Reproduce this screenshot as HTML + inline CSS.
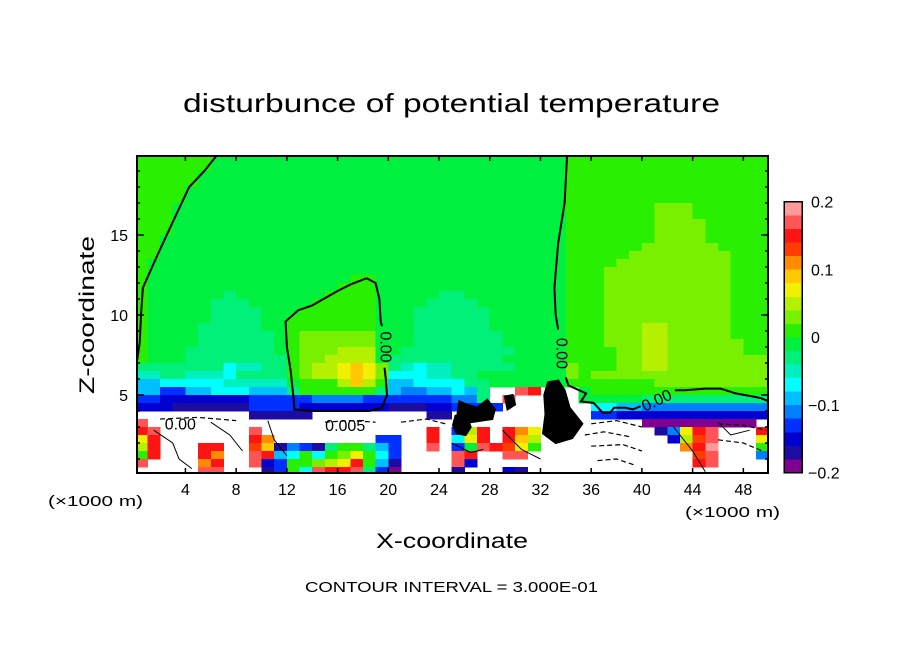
<!DOCTYPE html>
<html><head><meta charset="utf-8"><style>
html,body{margin:0;padding:0;background:#fff;}
svg{display:block;font-family:"Liberation Sans",sans-serif;}
</style></head><body>
<svg id="chart" width="904" height="654" viewBox="0 0 904 654" xmlns="http://www.w3.org/2000/svg">
<defs><clipPath id="plotclip"><rect x="137" y="156" width="631" height="317"/></clipPath></defs>
<rect x="0" y="0" width="904" height="654" fill="#fff"/>
<text x="183" y="112" font-size="26" textLength="537" lengthAdjust="spacingAndGlyphs">disturbunce of potential temperature</text>
<g id="field" clip-path="url(#plotclip)" shape-rendering="crispEdges"></g>
<g id="contours" clip-path="url(#plotclip)"></g>
<rect x="137" y="156" width="631" height="317" fill="none" stroke="#000" stroke-width="2"/>
<g id="axes"></g>
<text transform="translate(94,315) rotate(-90)" text-anchor="middle" font-size="21" textLength="158" lengthAdjust="spacingAndGlyphs">Z-coordinate</text>
<text x="376" y="548" font-size="21" textLength="152" lengthAdjust="spacingAndGlyphs">X-coordinate</text>
<text x="48" y="506" font-size="15" textLength="95" lengthAdjust="spacingAndGlyphs">(×1000 m)</text>
<text x="685" y="517" font-size="15" textLength="95" lengthAdjust="spacingAndGlyphs">(×1000 m)</text>
<text x="305" y="592" font-size="15" textLength="293" lengthAdjust="spacingAndGlyphs">CONTOUR INTERVAL = 3.000E-01</text>
<g id="colorbar" shape-rendering="crispEdges"></g>
<script>
// ---- data ----
const symbols = "0123456789abcdefghij";
const binColors = ["#800090","#1c0ca0","#0000d0","#0030ff","#0080ff","#00bfff","#00ffff","#00f0c0","#00f07a","#00f040",
                   "#28f000","#78f000","#b4f000","#f0f000","#ffc800","#ff8c00","#ff3c00","#ff1414","#ff5555","#ff9a9a"];
const xTicks = [4,8,12,16,20,24,28,32,36,40,44,48];
const yTicks = [5,10,15];
const cbTicks = [0.2,0.1,0,-0.1,-0.2];
const cbTickLabels = ["0.2","0.1","0","\u22120.1","\u22120.2"];
// grid rows (RLE: symbol then count), top row z=20..19.5, 0.5 km rows, 1 km columns
const rows = [
"a6 928 a16","a6 928 a16","a5 929 a16","a5 929 a16","a4 930 a16","a4 930 a16",
"a3 931 a7 b3 a6","a3 931 a7 b3 a6","a3 931 a7 b4 a5","a3 931 a7 b4 a5",
"a2 932 a7 b4 a5","a2 932 a6 b6 a4","a2 932 a5 b8 a3","a1 933 a4 b9 a3","a1 933 a3 b10 a3",
"a1 916 a2 915 a3 b10 a3","a1 915 a3 915 a3 b10 a3",
"a1 96 81 97 a4 95 82 98 a3 b10 a3",
"a1 95 83 95 a5 94 84 97 a3 b10 a3",
"a1 95 84 93 a6 93 86 96 a3 b10 a3",
"a1 95 84 92 a7 93 86 96 a3 b10 a3",
"a1 94 85 92 a7 93 86 96 a3 b3 c2 b5 a3",
"a1 94 86 91 a1 b6 93 87 95 a3 b3 c2 b5 a3",
"a1 94 86 91 a1 b6 93 87 95 a3 b3 c2 b6 a2",
"a1 93 87 91 a1 b3 c3 92 89 94 a4 b2 c2 b6 a2",
"a1 93 88 a1 b2 c4 91 89 95 a4 b2 c2 b8",
"87 61 72 82 a1 b1 c2 d1 e1 d1 b1 81 71 61 72 85 94 b1 a3 b2 c2 b8",
"72 82 73 61 84 a1 b1 c2 d1 e1 d1 b1 63 72 82 96 91 b1 a1 b14",
"52 65 72 73 91 a3 c1 e1 c1 a1 52 64 82 96 a7 b9",
"52 32 52 63 53 81 a6 81 51 42 52 61 51 81 .2 i1 h1 .3 91 a14",
"32 27 35 44 37 42 81 .1 i1 .5 95 810",
"23 16 34 27 13 22 34 .7 62 52 410",
".9 15 .9 12 .11 32 212",
"i1 .39 09 .1",
"h1 i1 .7 i1 .13 h1 .1 31 c1 h1 .1 h1 f1 d1 .9 11 41 d1 h1 i1 .3 h1",
"d1 h1 .7 h1 f1 .8 32 .2 h1 .1 61 d1 h1 .1 h1 e1 c1 .10 21 c1 g1 i1 .3 d1",
"c1 h1 .3 h2 .2 g1 e1 11 41 31 11 81 a2 81 51 31 .2 i1 .1 31 91 i1 h1 g1 d1 a1 .11 f1 h1 j1 .3 a1",
"a1 h1 .3 h1 f1 .2 i1 h1 51 61 a1 61 a1 b1 d1 a1 61 31 .4 i1 h1 .2 i2 .13 g1 i1 .3 41",
"i1 .4 f1 h1 .2 i1 21 31 a2 b1 c1 d1 h1 a1 51 11 .4 i1 21 .17 h1 i1 .4",
".5 i2 .3 11 31 a1 61 i1 h2 i1 81 31 01 .4 11 .3 21 11 .19"
];
// contour polylines in data units [x km, z km]
const contourLeft = [[6.5,20],[5.5,19],[4.3,18],[3.0,15.8],[1.8,13.75],[0.65,11.7],[0.5,10],[0.4,8.3],[0.2,7.2]];
const contourRightUpper = [[34.1,20],[33.9,17],[33.4,14.5],[33.1,11.7],[33.2,10],[33.4,9.1]];
const contourRightLower = [[34.0,6.1],[34.2,5.6],[35.6,5.1],[35.2,4.6],[36.2,4.5],[36.9,3.9],[37.5,3.9],[37.8,4.2],[38.7,4.2],[39.3,4.1],
                           [39.9,4.3]];
const contourRightTail = [[42.6,5.3],[43.4,5.3],[45,5.4],[46.2,5.4],[47.4,5.1],[48.8,4.9],[49.4,4.8],[50,4.6]];
const contourInner = [[18.3,12.3],[17,11.9],[16,11.5],[14,10.6],[12.9,10.3],[11.9,9.6],[12.0,8],[12.3,6.5],[12.5,5],[12.6,4.1],[14,4.0],[16,4.0],[18.5,4.0],[19.5,4.2],[19.9,5],[19.8,6],[19.7,6.7]];
const contourInnerTop = [[19.5,9.3],[19.4,9.6],[19.3,11],[19,12],[18.3,12.3]];
const dashedLines = [
 [[36,3.2],[38,3.4],[40,3.0]],[[35.5,2.5],[37,2.7],[39,2.4]],[[36,1.8],[38.5,1.9],[40,1.5]],
 [[46,3.2],[48,3.1],[49.8,2.8]],[[46,2.2],[48,2.0],[49.5,1.5]],[[15,3.3],[17,3.4],[19,3.3]],
 [[2,3.5],[5,3.6],[8,3.4]],[[36.5,0.9],[38,1.0],[39.5,0.6]],[[21,3.3],[23,3.5],[24.5,3.2]]];
const thinLines = [
 [[1.5,2.8],[3,2.0],[3.5,1.0],[4.5,0.4]],[[6,3.3],[7.5,2.5],[8.5,1.5]],[[42.5,3.0],[44,1.5],[45,0.2]],
 [[46,3.3],[47,2.5],[48.5,2.8]],[[10.5,3.4],[11,2.2],[12,1.2]],[[25,2.0],[26.5,1.4],[27.5,1.6]],[[29,2.8],[30.5,1.6],[32,1.0]]];
const blobs = [
 [[25.3,3.7],[26.2,3.6],[26.5,3.0],[26.1,2.5],[25.4,2.6],[25.1,3.1]],
 [[25.6,4.6],[26.2,4.4],[27,4.2],[27.8,4.7],[28.4,4.1],[28.2,3.5],[26.5,3.3],[25.4,3.5]],
 [[32.6,5.8],[33.4,5.9],[33.9,5.3],[34.3,4.2],[35.3,3.2],[34.5,2.3],[33.2,2.0],[32.2,2.6],[32.4,3.8],[32.3,5.0]],
 [[29.2,4.9],[29.8,5.0],[30.0,4.4],[29.4,4.1]]];
const contourLabels = [["0.00",19.7,8.0,90],["0.00",33.6,7.6,90],["0.00",41.2,4.6,-25],["0.00",3.6,3.1,0],["0.005",16.6,3.0,0]];

// ---- axes ----
const X = x => 134.7 + 12.68 * x;
const Y = z => 475 - 16 * z;
const CB = v => 337 - 677.5 * v;
const NS = "http://www.w3.org/2000/svg";
const field = document.getElementById("field");
const cont = document.getElementById("contours");
const axes = document.getElementById("axes");
const cbar = document.getElementById("colorbar");
function colorOf(v){ if (isNaN(v) || v < -0.2 || v > 0.2) return null; return binColors[Math.min(19, Math.floor((v + 0.2) / 0.02 + 1e-9))]; }

rows.forEach((rle, r) => {
  let col = 0;
  rle.split(" ").forEach(tok => {
    const sym = tok[0];
    const n = parseInt(tok.slice(1)) || 1;
    for (let k = 0; k < n; k++) {
      const v = sym === "." ? NaN : -0.19 + 0.02 * symbols.indexOf(sym);
      const c = colorOf(v);
      if (c && col < 50) {
        const rect = document.createElementNS(NS, "rect");
        
        
        rect.setAttribute("x", X(col));
        rect.setAttribute("y", Y(20 - 0.5 * r));
        rect.setAttribute("width", X(col + 1) - X(col) + 0.4);
        rect.setAttribute("height", 8.4);
        rect.setAttribute("fill", c);
        field.appendChild(rect);
      }
      col++;
    }
  });
});

function pathD(pts){ return pts.map((p,i)=>(i?"L":"M")+X(p[0]).toFixed(1)+","+Y(p[1]).toFixed(1)).join(" "); }
function addLine(pts, w, dash, name){
  const p = document.createElementNS(NS, "path");
  
  
  p.setAttribute("d", pathD(pts));
  p.setAttribute("fill", "none");
  p.setAttribute("stroke", "#000");
  p.setAttribute("stroke-width", w);
  if (dash) p.setAttribute("stroke-dasharray", dash);
  cont.appendChild(p);
}
[contourLeft, contourRightUpper, contourRightLower, contourRightTail, contourInner, contourInnerTop].forEach(c => addLine(c, 2, null, "zero-contour"));
dashedLines.forEach(c => addLine(c, 1.2, "5,3", "negative-contour"));
thinLines.forEach(c => addLine(c, 1, null, "positive-contour"));
blobs.forEach(b => {
  const p = document.createElementNS(NS, "path");
  
  
  p.setAttribute("d", pathD(b) + " Z");
  p.setAttribute("fill", "#000");
  p.setAttribute("stroke", "#000");
  p.setAttribute("stroke-width", 2);
  cont.appendChild(p);
});
contourLabels.forEach(l => {
  const t = document.createElementNS(NS, "text");
  
  
  t.setAttribute("transform", "translate(" + X(l[1]) + "," + Y(l[2]) + ") rotate(" + l[3] + ")");
  t.setAttribute("text-anchor", "middle");
  t.setAttribute("dominant-baseline", "middle");
  t.setAttribute("font-size", "16");
  t.textContent = l[0];
  cont.appendChild(t);
});

function tick(x1,y1,x2,y2,name){
  const l = document.createElementNS(NS, "line");
  
  
  l.setAttribute("x1", x1); l.setAttribute("y1", y1); l.setAttribute("x2", x2); l.setAttribute("y2", y2);
  l.setAttribute("stroke", "#000"); l.setAttribute("stroke-width", 1.5);
  axes.appendChild(l);
}
function label(x, y, s, anchor, name){
  const t = document.createElementNS(NS, "text");
  
  
  t.setAttribute("x", x); t.setAttribute("y", y);
  t.setAttribute("text-anchor", anchor);
  t.setAttribute("font-size", "16");
  t.textContent = s;
  axes.appendChild(t);
}
xTicks.forEach(v => {
  tick(X(v), 473, X(v), 468, "x-tick");
  tick(X(v), 156, X(v), 161, "x-tick-top");
  label(X(v), 495, String(v), "middle", "x-tick-label");
});
for (let z = 1; z <= 19; z++) {
  const len = yTicks.includes(z) ? 7 : 3;
  tick(137, Y(z), 137 + len, Y(z), "y-tick");
  tick(768, Y(z), 768 - len, Y(z), "y-tick-right");
}
yTicks.forEach(v => label(128, Y(v) + 6, String(v), "end", "y-tick-label"));

// colorbar
for (let i = 0; i < 20; i++) {
  const lo = -0.2 + 0.02 * i;
  const r = document.createElementNS(NS, "rect");
  
  
  r.setAttribute("x", 784); r.setAttribute("width", 18);
  r.setAttribute("y", CB(lo + 0.02)); r.setAttribute("height", CB(lo) - CB(lo + 0.02) + 0.4);
  r.setAttribute("fill", binColors[i]);
  cbar.appendChild(r);
}
const frame = document.createElementNS(NS, "rect");


frame.setAttribute("x", 784); frame.setAttribute("y", CB(0.2)); frame.setAttribute("width", 18); frame.setAttribute("height", CB(-0.2) - CB(0.2));
frame.setAttribute("fill", "none"); frame.setAttribute("stroke", "#000"); frame.setAttribute("stroke-width", 1.5);
cbar.appendChild(frame);
cbTicks.forEach((v, i) => {
  const t = document.createElementNS(NS, "text");
  
  
  t.setAttribute("x", v < 0 ? 808 : 811); t.setAttribute("y", CB(v) + 6);
  t.setAttribute("font-size", "16");
  t.textContent = cbTickLabels[i];
  cbar.appendChild(t);
});
</script>
</svg>
</body></html>
